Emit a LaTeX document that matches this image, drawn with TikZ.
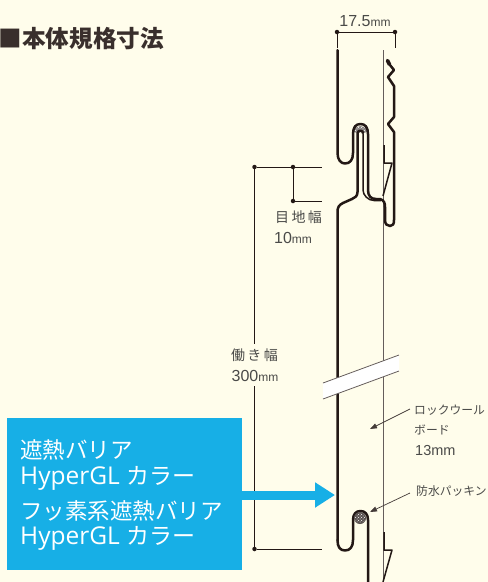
\documentclass[tikz,border=0pt]{standalone}
\usepackage{fontspec}
\setmainfont{Noto Sans CJK JP}
\newfontfamily\latinf{Liberation Sans}
\newfontfamily\openf{Open Sans}
\newfontfamily\jpf{Noto Sans CJK JP}
\usetikzlibrary{patterns,arrows.meta}
\definecolor{paper}{HTML}{FFFDEB}
\definecolor{skyb}{HTML}{17AFE6}
\definecolor{ink}{HTML}{231815}
\definecolor{txtg}{HTML}{4A4A48}
\tikzset{
  wall/.style={draw=ink,line width=2.5pt,line join=round,line cap=round},
  thin wall/.style={draw=ink,line width=1.5pt,line join=round},
  board/.style={draw=ink!70,line width=.8pt},
  dimline/.style={draw=ink,line width=.9pt},
  dimdot/.style={circle,fill=ink,inner sep=0pt,minimum size=4.5pt},
  lead/.style={draw=ink!85,line width=.7pt,-{Triangle[length=7pt,width=5pt]}},
  lab/.style={text=txtg,font=\fontsize{14}{15}\selectfont,inner sep=0pt,anchor=west},
  numlab/.style={lab,font=\latinf\fontsize{16}{17}\selectfont},
  katalab/.style={lab,font=\fontsize{11.8}{13}\selectfont},
  barlab/.style={text=white,font=\fontsize{22.5}{24}\selectfont,inner sep=0pt,anchor=west},
  barlat/.style={barlab,font=\openf\fontsize{24.5}{26}\selectfont}
}
\newcommand{\mmu}{{\fontsize{12}{13}\selectfont mm}}
\newcommand{\kara}{{\jpf\fontsize{23}{24}\selectfont カラー}}
\begin{document}
\begin{tikzpicture}[x=1pt,y=-1pt]
\fill[paper] (0,0) rectangle (488,582);
\useasboundingbox (0,0) rectangle (488,582);
% title
\node[anchor=west,inner sep=0pt,text=ink!90,font=\fontsize{23.6}{25}\bfseries\selectfont] (title) at (-1.5,39) {■本体規格寸法};
% rock wool board line
\coordinate (bt) at (383,50); \coordinate (bb) at (383,582);
\draw[board] (bt) -- (bb);
% hatching in the upper hook
\fill[ink!55] (353.5,132) .. controls (355,124) and (366,124) .. (367.5,132) -- (363,133) .. controls (362,130) and (359,130) .. (358,133) -- cycle;
\fill[pattern=crosshatch dots,pattern color=white] (353.5,132) .. controls (355,124) and (366,124) .. (367.5,132) -- (363,133) .. controls (362,130) and (359,130) .. (358,133) -- cycle;
% upper panel
\draw[wall] (337.5,50) -- (337.5,153) .. controls (337.5,160) and (341,163.5) .. (345,163.5)
  .. controls (350,163.5) and (353,160) .. (353,153) -- (353,134)
  .. controls (353,127) and (356,124) .. (360.5,124) .. controls (365,124) and (368,127) .. (368,134)
  -- (368,190) .. controls (368,196) and (371,199) .. (376,199) -- (380,199)
  .. controls (384,200) and (385,203) .. (385,207) -- (385,220)
  .. controls (385,224) and (387,226) .. (390,226) .. controls (393,226) and (394,224) .. (394,220)
  -- (394,132) -- (388,124) -- (394,117) -- (394,86) -- (388,77) -- (394,70) -- (390,65);
\draw[draw=ink,line width=3.6pt,line cap=round] (387.5,60.5) -- (389.5,64.5);
% inner double line of the hook
\draw[thin wall] (363,134) -- (363,190) .. controls (363,195) and (368,200.5) .. (374,200.5) -- (381,200.5);
\draw[wall] (363,133) .. controls (363,130) and (358,130) .. (357.5,133)
  -- (357.5,192) .. controls (357.5,196) and (355,198) .. (352,199) -- (343,203)
  .. controls (339,205) and (337.5,207) .. (337.5,212) -- (337.5,540);
% upper flap
\draw[thin wall] (384,145) -- (384,163) -- (392,163) -- (383,196);
% lower panel
\draw[wall] (337.5,540) .. controls (337.5,547) and (340,550.5) .. (345,550.5)
  .. controls (350,550.5) and (353,547) .. (353,540) -- (353,520)
  .. controls (353,514) and (356,511) .. (360.5,511) .. controls (365,511) and (368,514) .. (368,520) -- (368,582);
\fill[ink!75] (360,518) circle (6);
\fill[pattern=crosshatch dots,pattern color=white] (360,518) circle (5.2);
\draw[thin wall] (384,532) -- (384,550) -- (392,550) -- (383,582);
% break band
\fill[white] (323,383) -- (399,355) -- (399,371) -- (323,399) -- cycle;
\coordinate (ba) at (323,383); \coordinate (bc) at (399,355);
\coordinate (bd) at (323,399); \coordinate (be) at (399,371);
\draw[board] (ba) -- (bc); \draw[board] (bd) -- (be);
% dimension 17.5
\node[dimdot] (da) at (337,32) {}; \node[dimdot] (db) at (395,32) {};
\coordinate (dae) at (337,48); \coordinate (dbe) at (395,48);
\draw[dimline] (dae) -- (da) -- (db) -- (dbe);
\node[numlab,anchor=center] (w175) at (365,21) {17.5\mmu};
% joint + working width
\node[dimdot] (ja) at (254.5,167) {}; \node[dimdot] (jb) at (293,167) {};
\node[dimdot] (jc) at (293,201) {}; \node[dimdot] (jd) at (254.5,549) {};
\coordinate (jae) at (322,167); \coordinate (jce) at (322,201); \coordinate (jde) at (322,549);
\draw[dimline] (ja) -- (jae); \draw[dimline] (jb) -- (jc) -- (jce);
\draw[dimline] (jd) -- (jde);
\coordinate (gapt) at (254.5,344); \coordinate (gapb) at (254.5,386);
\draw[dimline] (ja) -- (gapt); \draw[dimline] (gapb) -- (jd);
\node[lab] (megu) at (275,217) {目\,地\,幅};
\node[numlab] (ten) at (274,238) {10\mmu};
\node[lab,anchor=center] (hata) at (254.5,355) {働\,き\,幅};
\node[numlab,anchor=center] (three) at (255,376) {300\mmu};
% labels with leaders
\node[katalab] (rock) at (414,410) {ロックウール};
\node[katalab] (rock2) at (414,430) {ボード};
\node[lab,font=\latinf\fontsize{14.5}{16}\selectfont] (rock3) at (415,451) {13mm};
\node[katalab] (pack) at (416,491) {防水パッキン};
\coordinate (rt) at (370,429); \coordinate (pt) at (370,512);
\draw[lead] (rock.west) ++(-4,-1) -- (rt);
\draw[lead] (pack.west) ++(-6,2) -- (pt);
% blue box
\node[fill=skyb,minimum width=235pt,minimum height=152pt,inner sep=0pt,anchor=north west] (bar) at (7,418) {};
\node[barlab] (b1) at (20,450) {遮熱バリア};
\node[barlat] (b2) at (20,478) {HyperGL \kara};
\node[barlab] (b3) at (20,511) {フッ素系遮熱バリア};
\node[barlat] (b4) at (20,538) {HyperGL \kara};
\coordinate (tip) at (335,495);
\draw[skyb,line width=9pt,-{Triangle[length=20pt,width=24pt]}] (bar.east |- tip) -- (tip);
\end{tikzpicture}
\end{document}
